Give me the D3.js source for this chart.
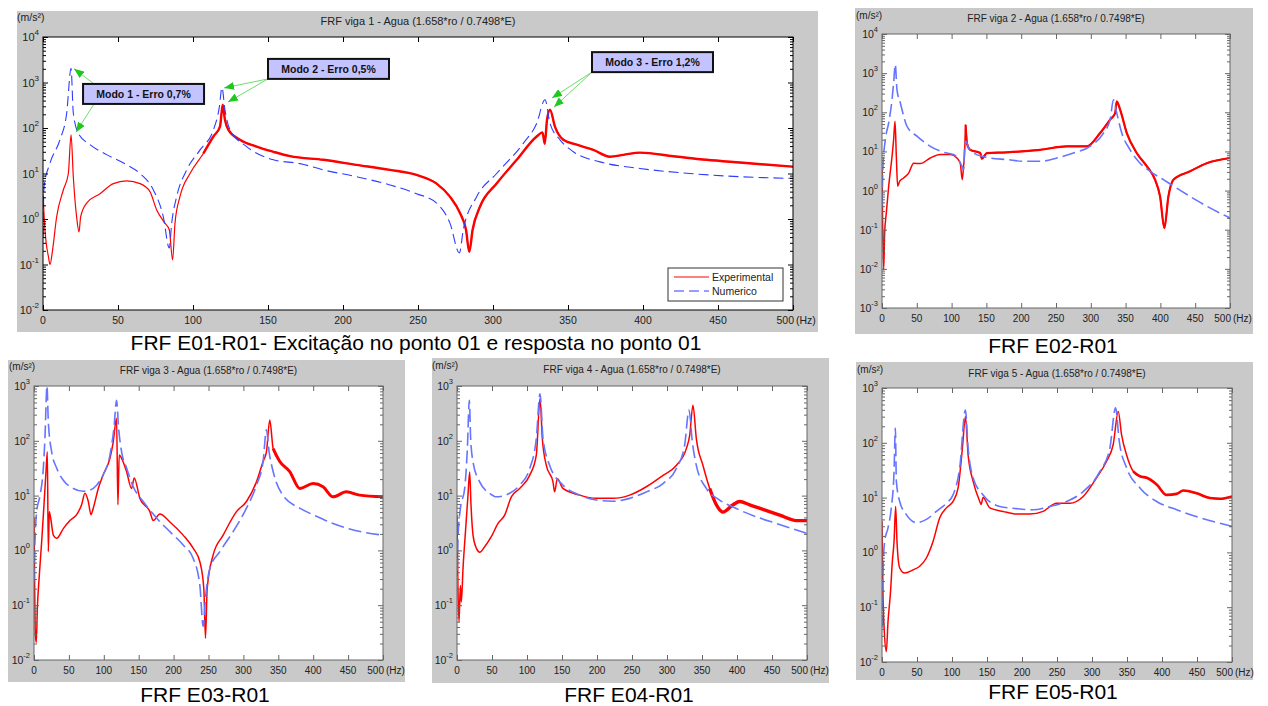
<!DOCTYPE html>
<html>
<head>
<meta charset="utf-8">
<script src="https://cdnjs.cloudflare.com/ajax/libs/d3/7.8.5/d3.min.js"></script>
<style>
  body { margin: 0; background: #fff; }
  text { font-family: Arial, "Liberation Sans", sans-serif; }
</style>
</head>
<body>
<svg id="fig" width="1268" height="706"></svg>
<script>
// ---- data: [frequency (Hz), amplitude (m/s^2)] ----
var exp1 = [[0,3.6],[1.3,0.58],[3.6,0.15],[4.7,0.1],[6.4,0.21],[9.1,1.12],[13.6,4.4],[16.9,10],[18.7,71],[20.2,8.5],[22.4,1.12],[24,0.52],[25.1,1.12],[29.1,2.24],[38,3.6],[46.9,6],[55.8,6.9],[64.7,6],[71.3,4],[75.8,1.58],[81.3,0.81],[84.2,0.58],[86.4,0.126],[88,0.81],[91.3,3.1],[98,10],[106.9,27.5],[113.6,65],[118,107],[119.8,324],[121.3,151],[123.6,91],[131.3,55],[142.4,39],[153.6,30],[164.7,24],[186.9,20],[209,15.5],[231.3,12],[249,9.3],[262.4,6],[271.3,3.1],[278,1.35],[282,0.58],[284.2,0.19],[286.4,0.58],[291.3,1.86],[302.4,6],[315.8,20],[329.1,65],[333,80],[334.5,45],[336,150],[338,251],[341.3,107],[346.9,55],[355.8,43],[366.9,33],[378,23.4],[386.9,25.7],[398,28.8],[420.2,24],[442.4,20],[464.7,17.4],[500,14.1]];
var num1 = [[0,0.4],[0.7,5.1],[4.7,17],[11.3,55],[15.8,214],[18.7,2040],[20.2,214],[23.6,76],[31.3,43],[42.4,26],[55.8,15.5],[64.7,10],[73.5,4.4],[80.2,1.12],[84.2,0.23],[85.8,0.81],[89.1,3.1],[95.8,12],[104.7,33],[113.6,91],[117.6,295],[119.3,776],[121.3,251],[124.7,91],[135.8,39],[153.6,20],[171.3,16.5],[186.9,12],[209,8.5],[231.3,5.6],[249,3.6],[262.4,2.24],[271.3,0.81],[277.6,0.18],[280.2,0.58],[289.1,3.1],[302.4,10],[320.2,46],[329.1,126],[334.7,417],[338,126],[344.7,55],[353.6,30],[371.3,18],[398,12.9],[431.3,10],[464.7,8.5],[500,7.8]];

var exp2 = [[0,3.4],[1,0.12],[2.4,0.0095],[3.8,0.081],[6.2,0.27],[9.6,1.29],[14.4,7.4],[16.7,20],[18.7,59],[20.6,7.4],[22.5,1.29],[25.4,1.74],[31.1,2.1],[38.3,2.8],[45.5,5],[55,4.9],[69.4,6.8],[83.7,8.3],[98.1,8.3],[107.7,6.8],[112.4,5],[115.3,1.9],[117.2,4.2],[118.7,9.1],[120.1,48],[122,16.2],[126.8,11],[141.1,9.1],[143.5,6.5],[150.7,9.1],[179.4,9.5],[227.3,11],[265.6,13.5],[294.3,13.5],[313.4,29.5],[327.8,65],[335,95],[337.3,190],[342.1,117],[351.7,29.5],[366,9.1],[380.4,4.2],[392.3,1.9],[399.5,0.71],[405.7,0.11],[411.5,0.71],[418.7,1.9],[442.6,3.1],[466.5,5],[500,6.8]];
var num2 = [[0,0.4],[1.4,4.2],[4.8,20],[9.6,54],[14.4,209],[16.7,562],[19.1,1660],[21.5,380],[26.3,174],[35.9,44],[50.2,24.5],[69.4,13.5],[88.5,9.5],[102.9,8.3],[110,6.2],[114.8,4.2],[117.2,3.4],[118.7,13.5],[120.6,18.2],[124.4,12.3],[131.6,9.1],[155.5,6.8],[179.4,6.2],[203.3,5.6],[227.3,5.6],[251.2,6.8],[275.1,9.1],[299,13.5],[318.2,29.5],[327.8,65],[332.5,209],[337.3,95],[344.5,29.5],[356.5,11],[370.8,5],[385.2,3.1],[404.3,1.9],[423.4,1.15],[442.6,0.71],[466.5,0.4],[500,0.2]];

var exp3 = [[0,3.9],[1,0.2],[1.9,0.029],[3.3,0.021],[4.8,0.087],[7.6,0.35],[11,1.45],[14.3,6.8],[17.2,27.5],[19.1,63],[20.5,0.95],[21.9,5.1],[23.9,3.9],[27.7,1.9],[32.4,1.66],[42,2.5],[51.5,3.5],[61.1,4.5],[68.2,6.8],[73,11],[77.8,7.8],[81.6,4.5],[84.9,5.9],[92.1,13.5],[99.2,24],[108.8,48],[113.5,95],[118.3,257],[120.2,6.8],[122.1,55],[125.5,48],[132.6,27.5],[139.8,13.5],[143.6,21],[151.7,8.9],[166,5.1],[170.8,3.5],[180.3,4.6],[194.7,3.3],[213.7,1.9],[228,1.1],[237.6,0.62],[243.3,0.2],[245.7,0.025],[248.1,0.2],[256.7,0.83],[271,1.9],[290.1,5.1],[304.4,7.8],[318.7,17.8],[328.2,42],[333,63],[337.8,240],[342.6,72],[352.1,42],[366.4,27.5],[380.7,13.5],[399.8,16.6],[414.1,14.5],[428.4,9.5],[447.5,11.7],[466.6,10.2],[500,9.5]];
var num3 = [[0,0.27],[1.4,1.45],[3.8,5.1],[8.6,10],[13.4,32],[15.7,112],[18.6,1000],[20.5,224],[25.3,63],[32.4,32],[42,19],[56.3,13.5],[70.6,12],[80.2,12.6],[89.7,15.5],[99.2,24],[108.8,55],[114.5,170],[118.3,550],[121.2,170],[125.5,63],[132.6,32],[142.2,14.5],[156.5,7.8],[175.6,3.9],[194.7,2.2],[213.7,1.26],[228,0.72],[237.6,0.23],[242.4,0.041],[245.7,0.135],[251.9,0.47],[266.2,0.95],[285.3,2.2],[304.4,5.9],[318.7,15.5],[328.2,42],[333,158],[336.8,63],[342.6,27.5],[356.9,10],[380.7,5.9],[404.6,4.2],[428.4,3.1],[452.3,2.45],[500,1.9]];

var exp4 = [[0,4.4],[1.4,0.2],[2.9,0.05],[4.8,0.23],[6.2,0.115],[8.6,0.47],[12.4,2.5],[15.7,10.2],[18.1,27],[20,6.8],[22.9,1.9],[27.6,1.1],[32.4,0.93],[39.5,1.17],[49,1.78],[58.6,3.1],[68.1,4.4],[77.6,9.5],[89.5,13.5],[103.8,23.4],[113.3,55],[118.6,590],[121.9,110],[127.6,35.5],[137.1,17.8],[139.5,11.7],[143.3,20.4],[151.4,13.5],[175.2,10.2],[199,8.9],[222.9,8.9],[246.7,10.2],[270.5,14.5],[294.3,23.4],[313.3,35.5],[327.6,72],[332.4,126],[337.1,447],[341.9,110],[351.4,35.5],[361,13.5],[370.5,6.8],[380,5],[394.3,6.8],[403.8,7.8],[418.1,6.8],[437.1,5.6],[461,4.4],[484.8,3.5],[500,3.5]];
var num4 = [[0,0.2],[1.4,1.66],[4.8,5.8],[11,13.5],[14.8,72],[17.6,550],[19.5,110],[22.9,41],[32.4,17.8],[46.7,11],[56.2,9.5],[75.2,11],[89.5,15.5],[103.8,31],[113.3,110],[118.6,724],[122.9,110],[132.4,35.5],[151.4,15.5],[175.2,10.2],[199,8.3],[222.9,7.9],[246.7,8.9],[270.5,11.7],[294.3,16.6],[313.3,31],[325.2,83],[331.4,363],[336.2,95],[341.9,35.5],[356.2,13.5],[375.2,8.3],[399,5.8],[427.6,4.1],[456.2,3.1],[500,2.05]];

var exp5 = [[0,3.7],[1.4,0.17],[3.3,0.036],[6.2,0.0155],[8.6,0.055],[11.9,0.17],[14.8,0.69],[17.2,1.58],[19.5,6.9],[21.4,1.58],[25.3,0.52],[32.4,0.42],[44.3,0.48],[53.9,0.56],[63.4,0.79],[72.9,1.58],[82.5,4.3],[92,6.5],[101.5,8.5],[108.7,15],[114.9,81],[119.2,302],[123,60],[130.1,20],[139.7,8.5],[141.5,7.5],[144.4,10],[154,6.5],[173,5.6],[192.1,5],[211.2,5],[230.2,5.6],[249.3,7.9],[268.4,7.9],[287.4,10.5],[306.5,23],[320.8,46],[330.3,93],[337.5,372],[342.2,141],[349.4,60],[359,30],[368.5,24.5],[378,23],[392.3,17.4],[406.6,11.2],[420.9,11.7],[430.4,13.5],[449.5,12],[468.6,9.8],[482.9,9.5],[500,10.5]];
var num5 = [[0,0.042],[1.4,0.45],[3.8,1.58],[8.6,2.8],[13.3,6.5],[17.2,30],[19.1,186],[20.5,20],[25.3,8.5],[34.8,4.9],[49.1,3.5],[63.4,4],[77.7,5.6],[92,7.9],[101.5,11.2],[111,35],[119.2,398],[123,81],[130.1,23],[144.4,11.2],[168.3,6.9],[192.1,6.3],[215.9,6],[239.8,6.9],[263.6,8.5],[287.4,12.9],[311.3,30],[325.6,81],[333.7,437],[338.9,107],[349.4,35],[368.5,15],[392.3,8.5],[420.9,6],[454.2,4.3],[500,3]];

var expSeries = [exp1, exp2, exp3, exp4, exp5];
var numSeries = [num1, num2, num3, num4, num5];
var seriesNames = ["Experimental", "Numerico"];

var xTicks = [0, 50, 100, 150, 200, 250, 300, 350, 400, 450, 500];
var yRanges = [[1e-2, 1e4], [1e-3, 1e4], [1e-2, 1e3], [1e-2, 1e3], [1e-2, 1e3]];
var titles = ["FRF viga 1 - Agua (1.658*ro / 0.7498*E)", "FRF viga 2 - Agua (1.658*ro / 0.7498*E)",
  "FRF viga 3 - Agua (1.658*ro / 0.7498*E)", "FRF viga 4 - Agua (1.658*ro / 0.7498*E)",
  "FRF viga 5 - Agua (1.658*ro / 0.7498*E)"];
var captions = ["FRF E01-R01- Excitação no ponto 01 e resposta no ponto 01", "FRF E02-R01",
  "FRF E03-R01", "FRF E04-R01", "FRF E05-R01"];
var unitLabel = "(m/s²)";
var xUnit = "(Hz)";

// mode annotations on the first panel
var modeLabels = ["Modo 1 - Erro 0,7%", "Modo 2 - Erro 0,5%", "Modo 3 - Erro 1,2%"];
var modeBoxAt = [[26.7, 930], [150, 3300], [366, 4650]];     // top-left corner (Hz, m/s^2)
var modeTips = [[[20.7, 2000], [22, 81]], [[120.7, 760], [123.3, 372]], [[339.3, 457], [340.7, 288]]];

// ---- layout (pixels) ----
var layout = [
  { bg: [17, 11, 818, 332], plot: [43, 37, 793, 310], titleY: 25, unit: [17, 21], cap: [416, 350], capSize: 21,
    frame: "#000", tickFont: 10.5, titleFont: 11, redW: 1.2, blueW: 1.1, blue: "#2f3cff", dash: "10,5",
    noiseFrom: 100, noiseW: 2.4 },
  { bg: [855, 8, 1253, 334], plot: [882, 34, 1230, 308], titleY: 22, unit: [856, 19], cap: [1053, 353], capSize: 21,
    frame: "#666", tickFont: 10, titleFont: 10, redW: 1.5, blueW: 1.6, blue: "#6675ff", dash: "13,5",
    noiseFrom: 120, noiseW: 2.2 },
  { bg: [8, 360, 405, 682], plot: [34, 386, 383, 660], titleY: 374, unit: [9, 370], cap: [205, 702], capSize: 21,
    frame: "#666", tickFont: 10, titleFont: 10, redW: 1.5, blueW: 1.6, blue: "#6675ff", dash: "13,5",
    noiseFrom: 340, noiseW: 3 },
  { bg: [432, 358, 829, 683], plot: [457, 386, 807, 660], titleY: 373, unit: [432, 369], cap: [629, 702], capSize: 21,
    frame: "#666", tickFont: 10, titleFont: 10, redW: 1.5, blueW: 1.6, blue: "#6675ff", dash: "13,5",
    noiseFrom: 360, noiseW: 3.4 },
  { bg: [856, 362, 1253, 680], plot: [882, 388, 1232, 662], titleY: 377, unit: [857, 373], cap: [1053, 699], capSize: 21,
    frame: "#666", tickFont: 10, titleFont: 10, redW: 1.5, blueW: 1.6, blue: "#6675ff", dash: "13,5",
    noiseFrom: 350, noiseW: 2.6 }
];

var svg = d3.select("#fig");

var defs = svg.append("defs");
defs.append("marker")
    .attr("id", "arrowG")
    .attr("markerUnits", "userSpaceOnUse")
    .attr("markerWidth", 10).attr("markerHeight", 8)
    .attr("refX", 10).attr("refY", 4)
    .attr("orient", "auto")
  .append("path")
    .attr("d", "M0,0 L10,4 L0,8 Z")
    .attr("fill", "#1ec81e");

function drawPanel(i) {
  var L = layout[i];
  var l = L.plot[0], t = L.plot[1], r = L.plot[2], b = L.plot[3];
  var g = svg.append("g");

  g.append("rect")
      .attr("x", L.bg[0]).attr("y", L.bg[1])
      .attr("width", L.bg[2] - L.bg[0]).attr("height", L.bg[3] - L.bg[1])
      .attr("fill", "#c9c9c9");
  g.append("rect")
      .attr("x", l).attr("y", t).attr("width", r - l).attr("height", b - t)
      .attr("fill", "#fff");

  var x = d3.scaleLinear().domain([0, 500]).range([l, r]);
  var y = d3.scaleLog().domain(yRanges[i]).range([b, t]);

  defs.append("clipPath").attr("id", "clip" + i)
    .append("rect").attr("x", l).attr("y", t).attr("width", r - l).attr("height", b - t);

  var line = d3.line()
      .x(function(d) { return x(d[0]); })
      .y(function(d) { return y(d[1]); })
      .curve(d3.curveMonotoneX);

  var plotG = g.append("g").attr("clip-path", "url(#clip" + i + ")");
  plotG.append("path")
      .attr("d", line(expSeries[i]))
      .attr("fill", "none").attr("stroke", "#ff0000")
      .attr("stroke-width", L.redW).attr("stroke-linejoin", "round");
  // the measured curve gets visibly thicker where the signal is noisy
  plotG.append("path")
      .attr("d", line(expSeries[i].filter(function(d) { return d[0] >= L.noiseFrom; })))
      .attr("fill", "none").attr("stroke", "#ff0000")
      .attr("stroke-width", L.noiseW).attr("stroke-linejoin", "round");
  plotG.append("path")
      .attr("d", line(numSeries[i]))
      .attr("fill", "none").attr("stroke", L.blue)
      .attr("stroke-width", L.blueW).attr("stroke-dasharray", L.dash);

  // ticks on all four sides, pointing inwards
  var allY = y.ticks();
  var majorY = allY.filter(function(v) { return Math.abs(Math.log10(v) - Math.round(Math.log10(v))) < 1e-9; });
  var minorY = allY.filter(function(v) { return majorY.indexOf(v) < 0; });

  function clean(sel) {
    sel.select(".domain").remove();
    sel.selectAll(".tick line").attr("stroke", L.frame);
  }
  g.append("g").attr("transform", "translate(0," + b + ")")
      .call(d3.axisBottom(x).tickValues(xTicks).tickSize(-5).tickFormat("")).call(clean);
  g.append("g").attr("transform", "translate(0," + t + ")")
      .call(d3.axisTop(x).tickValues(xTicks).tickSize(-5).tickFormat("")).call(clean);
  g.append("g").attr("transform", "translate(" + l + ",0)")
      .call(d3.axisLeft(y).tickValues(majorY).tickSize(-5).tickFormat("")).call(clean);
  g.append("g").attr("transform", "translate(" + l + ",0)")
      .call(d3.axisLeft(y).tickValues(minorY).tickSize(-3).tickFormat("")).call(clean);
  g.append("g").attr("transform", "translate(" + r + ",0)")
      .call(d3.axisRight(y).tickValues(majorY).tickSize(-5).tickFormat("")).call(clean);
  g.append("g").attr("transform", "translate(" + r + ",0)")
      .call(d3.axisRight(y).tickValues(minorY).tickSize(-3).tickFormat("")).call(clean);

  g.append("rect")
      .attr("x", l).attr("y", t).attr("width", r - l).attr("height", b - t)
      .attr("fill", "none").attr("stroke", L.frame).attr("stroke-width", 1);

  // x tick labels
  xTicks.forEach(function(v, k) {
    var last = k === xTicks.length - 1;
    g.append("text")
        .attr("x", last ? x(v) + 1 : x(v)).attr("y", b + 14)
        .attr("text-anchor", last ? "end" : "middle")
        .attr("font-size", L.tickFont).attr("fill", "#222")
        .text(v);
  });
  g.append("text")
      .attr("x", r + 3).attr("y", b + 14)
      .attr("font-size", L.tickFont).attr("fill", "#222")
      .text(xUnit);

  // y tick labels 10^n
  majorY.forEach(function(v) {
    var tx = g.append("text")
        .attr("x", l - 4).attr("y", y(v) + 4)
        .attr("text-anchor", "end")
        .attr("font-size", L.tickFont + 0.5).attr("fill", "#222");
    tx.append("tspan").text("10");
    tx.append("tspan").attr("dy", -6).attr("font-size", L.tickFont - 2.5)
        .text(Math.round(Math.log10(v)));
  });

  g.append("text")
      .attr("x", L.unit[0]).attr("y", L.unit[1])
      .attr("font-size", L.tickFont).attr("fill", "#222")
      .text(unitLabel);
  g.append("text")
      .attr("x", (l + r) / 2).attr("y", L.titleY)
      .attr("text-anchor", "middle")
      .attr("font-size", L.titleFont).attr("fill", "#222")
      .text(titles[i]);
  svg.append("text")
      .attr("x", L.cap[0]).attr("y", L.cap[1])
      .attr("text-anchor", "middle")
      .attr("font-size", L.capSize).attr("fill", "#000")
      .text(captions[i]);

  return { g: g, x: x, y: y };
}

var panels = layout.map(function(d, i) { return drawPanel(i); });

// ---- annotations and legend on panel 1 ----
var p1 = panels[0];
var boxW = 121, boxH = 20;
var tailOffsets = [[[11, 0], [11, 20]], [[0, 20], [0, 20]], [[0, 20], [0, 20]]];

modeLabels.forEach(function(label, k) {
  var bx = p1.x(modeBoxAt[k][0]), by = p1.y(modeBoxAt[k][1]);
  modeTips[k].forEach(function(tip, j) {
    p1.g.append("line")
        .attr("x1", bx + tailOffsets[k][j][0]).attr("y1", by + tailOffsets[k][j][1])
        .attr("x2", p1.x(tip[0])).attr("y2", p1.y(tip[1]))
        .attr("stroke", "#6fdc6f").attr("stroke-width", 1)
        .attr("marker-end", "url(#arrowG)");
  });
});
modeLabels.forEach(function(label, k) {
  var bx = p1.x(modeBoxAt[k][0]), by = p1.y(modeBoxAt[k][1]);
  p1.g.append("rect")
      .attr("x", bx).attr("y", by).attr("width", boxW).attr("height", boxH)
      .attr("fill", "#c3c3ff").attr("stroke", "#111").attr("stroke-width", 2);
  p1.g.append("text")
      .attr("x", bx + boxW / 2).attr("y", by + 14)
      .attr("text-anchor", "middle")
      .attr("font-size", 10.5).attr("font-weight", "bold").attr("fill", "#111")
      .text(label);
});

var lg = p1.g.append("g").attr("transform", "translate(668,268)");
lg.append("rect").attr("width", 115).attr("height", 33)
    .attr("fill", "#fff").attr("stroke", "#333");
var legendStyle = [{ c: "#ff0000", dash: null }, { c: "#2f3cff", dash: "10,5" }];
seriesNames.forEach(function(name, k) {
  lg.append("line")
      .attr("x1", 6).attr("x2", 41).attr("y1", 9 + k * 14).attr("y2", 9 + k * 14)
      .attr("stroke", legendStyle[k].c).attr("stroke-width", 1)
      .attr("stroke-dasharray", legendStyle[k].dash);
  lg.append("text")
      .attr("x", 44).attr("y", 13 + k * 14)
      .attr("font-size", 10.5).attr("fill", "#222")
      .text(name);
});
</script>
</body>
</html>
